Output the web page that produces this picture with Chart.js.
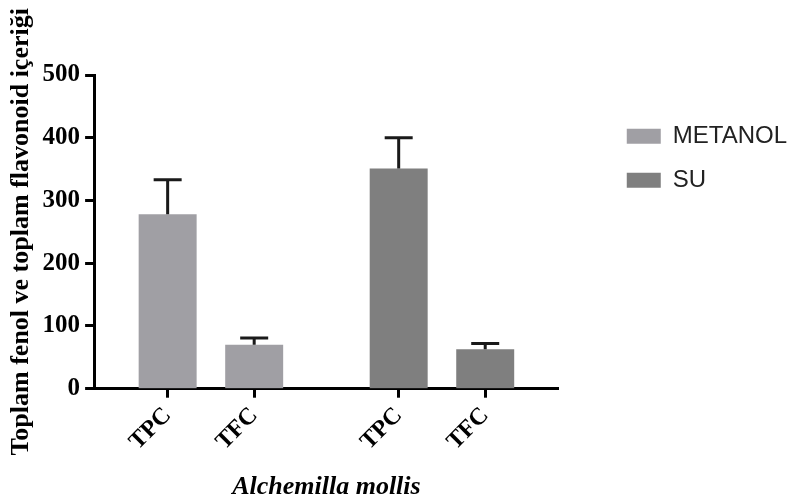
<!DOCTYPE html>
<html>
<head>
<meta charset="utf-8">
<script src="https://cdn.jsdelivr.net/npm/chart.js@4/dist/chart.umd.min.js"></script>
<style>
  html, body { margin: 0; padding: 0; background: #fff; }
</style>
</head>
<body>
<canvas id="phenolChart" width="797" height="500"></canvas>
<script>
// values
var groups = ['METANOL', 'SU'];
var categories = ['TPC', 'TFC'];
var metanolValues = [278, 70];
var metanolErrors = [55, 11];
var suValues = [351, 63];
var suErrors = [49, 9];
var yTicks = [0, 100, 200, 300, 400, 500];

// layout: bars of a group sit 1 unit apart, groups are split by an extra gap
var groupGap = 0.67;
var sidePad = 0.85;

function barPos(g, i) {
    return g * (categories.length + groupGap) + i;
}

function toPoints(g, values) {
    return values.map(function(v, i) {
        return { x: barPos(g, i), y: v };
    });
}

var allPos = [];
var allLabels = [];
groups.forEach(function(g, gi) {
    categories.forEach(function(c, ci) {
        allPos.push(barPos(gi, ci));
        allLabels.push(c);
    });
});

// draws the upper error bar with its cap on every bar
var errorBarPlugin = {
    id: 'errorBars',
    afterDatasetsDraw: function(chart) {
        var ctx = chart.ctx;
        var yScale = chart.scales.y;
        chart.data.datasets.forEach(function(ds, di) {
            var meta = chart.getDatasetMeta(di);
            meta.data.forEach(function(bar, i) {
                var top = yScale.getPixelForValue(ds.data[i].y + ds.errors[i]);
                ctx.save();
                ctx.strokeStyle = '#1a1a1a';
                ctx.lineWidth = 3;
                ctx.beginPath();
                ctx.moveTo(bar.x, bar.y);
                ctx.lineTo(bar.x, top);
                ctx.moveTo(bar.x - 14, top);
                ctx.lineTo(bar.x + 14, top);
                ctx.stroke();
                ctx.restore();
            });
        });
    }
};

var serif = "'Liberation Serif', 'Times New Roman', serif";

var ctx = document.getElementById('phenolChart').getContext('2d');
var phenolChart = new Chart(ctx, {
    type: 'bar',
    data: {
        datasets: [
            {
                label: groups[0],
                data: toPoints(0, metanolValues),
                errors: metanolErrors,
                backgroundColor: '#a09fa4',
                borderWidth: 0
            },
            {
                label: groups[1],
                data: toPoints(1, suValues),
                errors: suErrors,
                backgroundColor: '#7f7f7f',
                borderWidth: 0
            }
        ]
    },
    options: {
        responsive: false,
        animation: false,
        layout: {
            padding: { top: 75, left: 7, right: 0, bottom: 0 }
        },
        datasets: {
            bar: { categoryPercentage: 1, barPercentage: 0.67 }
        },
        plugins: {
            tooltip: { enabled: false },
            legend: {
                position: 'right',
                align: 'start',
                maxWidth: 260,
                title: { display: true, text: '', font: { size: 1 }, padding: { top: 28, bottom: 0 } },
                labels: {
                    boxWidth: 34,
                    boxHeight: 15,
                    padding: 20,
                    color: '#222',
                    font: { family: "'Liberation Sans', Arial, sans-serif", size: 24 }
                }
            }
        },
        scales: {
            x: {
                type: 'linear',
                stacked: true,
                offset: false,
                min: allPos[0] - sidePad,
                max: allPos[allPos.length - 1] + sidePad,
                afterBuildTicks: function(scale) {
                    scale.ticks = allPos.map(function(p) { return { value: p }; });
                },
                grid: { offset: false, drawOnChartArea: false, drawTicks: true, tickLength: 9, tickWidth: 3, color: '#000' },
                border: { color: '#000', width: 3 },
                ticks: {
                    autoSkip: false,
                    minRotation: 45,
                    maxRotation: 45,
                    padding: 4,
                    color: '#000',
                    font: { family: serif, size: 24, weight: 'bold' },
                    callback: function(value) {
                        var i = allPos.indexOf(value);
                        return i >= 0 ? allLabels[i] : '';
                    }
                },
                title: {
                    display: true,
                    text: 'Alchemilla mollis',
                    color: '#000',
                    padding: { top: 14, bottom: 0 },
                    font: { family: serif, size: 26, weight: 'bold', style: 'italic', lineHeight: 1 }
                }
            },
            y: {
                stacked: true,
                min: yTicks[0],
                max: yTicks[yTicks.length - 1],
                afterBuildTicks: function(scale) {
                    scale.ticks = yTicks.map(function(v) { return { value: v }; });
                },
                grid: { drawOnChartArea: false, drawTicks: true, tickLength: 9, tickWidth: 3, color: '#000' },
                border: { color: '#000', width: 3 },
                ticks: {
                    padding: 5,
                    color: '#000',
                    font: { family: serif, size: 25, weight: 'bold' }
                },
                title: {
                    display: true,
                    text: 'Toplam fenol ve toplam flavonoid içeriği',
                    color: '#000',
                    padding: { top: 0, bottom: 2 },
                    font: { family: serif, size: 26, weight: 'bold', lineHeight: 1.1 }
                }
            },
            // empty spacer so the legend sits away from the plot
            gap: {
                position: 'right',
                display: true,
                grid: { display: false },
                border: { display: false },
                ticks: { display: false },
                afterFit: function(scale) { scale.width = 48; }
            }
        }
    },
    plugins: [errorBarPlugin]
});
</script>
</body>
</html>
